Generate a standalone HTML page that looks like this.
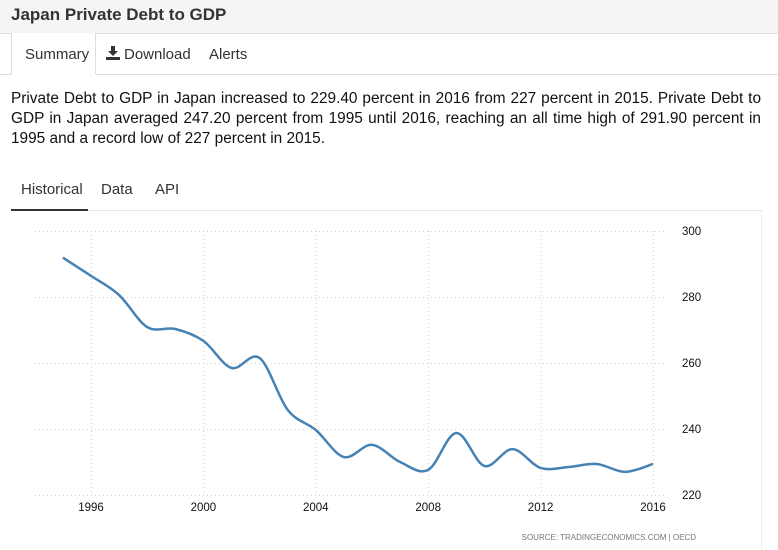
<!DOCTYPE html>
<html><head><meta charset="utf-8"><style>
body{margin:0;width:778px;height:550px;overflow:hidden;background:#fff;font-family:"Liberation Sans",Arial,sans-serif;position:relative}
.hdr{position:absolute;left:0;top:0;width:778px;height:33px;background:#f5f5f5;border-bottom:1px solid #ddd}
.hdr h1{margin:0;position:absolute;left:11px;top:5px;font-size:17px;font-weight:bold;color:#333}
.tabs{position:absolute;left:0;top:33px;width:778px;height:41px;border-bottom:1px solid #ddd}
.tab{position:absolute;top:13px;font-size:15px;color:#333}
.act{position:absolute;left:11px;top:0;width:83px;height:41px;border:1px solid #ddd;border-top:none;border-bottom:1px solid #fff;background:#fff}
p{position:absolute;left:11px;top:89px;width:750px;margin:0;font-size:15.4px;line-height:20px;color:#111}
p span{display:block;white-space:nowrap}
p span.j{text-align:justify;text-align-last:justify}
.t2{position:absolute;top:181px;font-size:15px;color:#333}
.line2{position:absolute;left:11px;top:210px;width:751px;height:1px;background:#e5e5e5}
.ul{position:absolute;left:11px;top:209px;width:77px;height:2px;background:#333}
.panel{position:absolute;left:761px;top:211px;width:1px;height:339px;background:#eee}
svg#c{position:absolute;left:0;top:0}
</style></head><body>
<div class="hdr"><h1>Japan Private Debt to GDP</h1></div>
<div class="tabs">
<div class="act"></div>
<span class="tab" style="left:25px">Summary</span>
<svg style="position:absolute;left:106px;top:13px" width="14" height="14" viewBox="0 0 14 14"><path d="M5 0h4v5h3l-5 5-5-5h3z" fill="#333"/><rect x="0" y="11" width="14" height="3" fill="#333"/></svg>
<span class="tab" style="left:124px">Download</span>
<span class="tab" style="left:209px">Alerts</span>
</div>
<p><span class="j">Private Debt to GDP in Japan increased to 229.40 percent in 2016 from 227 percent in 2015. Private Debt to</span><span class="j">GDP in Japan averaged 247.20 percent from 1995 until 2016, reaching an all time high of 291.90 percent in</span><span>1995 and a record low of 227 percent in 2015.</span></p>
<span class="t2" style="left:21px">Historical</span>
<span class="t2" style="left:101px">Data</span>
<span class="t2" style="left:155px">API</span>
<div class="line2"></div><div class="ul"></div><div class="panel"></div>
<svg id="c" width="778" height="550"></svg>
<script>
const years=[1995,1996,1997,1998,1999,2000,2001,2002,2003,2004,2005,2006,2007,2008,2009,2010,2011,2012,2013,2014,2015,2016];
const values=[291.9,286.4,280.6,270.9,270.3,266.7,258.5,261.5,245.8,239.7,231.5,235.2,230,227.6,238.8,228.8,233.9,228.2,228.5,229.4,227,229.4];
const yTicks=[220,240,260,280,300];
const xTicks=[1996,2000,2004,2008,2012,2016];
const NS='http://www.w3.org/2000/svg',svg=document.getElementById('c');
const X=y=>91+(y-1996)*(653-91)/20, Y=v=>495-(v-220)*(495-231)/80;
function el(t,a,txt){const e=document.createElementNS(NS,t);for(const k in a)e.setAttribute(k,a[k]);if(txt!=null)e.textContent=txt;svg.appendChild(e);return e;}
yTicks.forEach(v=>{
const g=el('line',{x1:35,x2:665,y1:Y(v)+0.5,y2:Y(v)+0.5,stroke:'#d0d0d0','stroke-dasharray':'1,3'});


const t=el('text',{x:682,y:Y(v)+4,'font-size':11.5,fill:'#111','font-family':'Liberation Sans,sans-serif'},v);


});
xTicks.forEach(y=>{
const g=el('line',{x1:X(y)+0.5,x2:X(y)+0.5,y1:231,y2:495,stroke:'#d0d0d0','stroke-dasharray':'1,3'});


const t=el('text',{x:X(y),y:511,'font-size':11.5,fill:'#111','text-anchor':'middle','font-family':'Liberation Sans,sans-serif'},y);


});
const P=years.map((y,i)=>[X(y),Y(values[i])]);
let d='M'+P[0][0]+','+P[0][1];
for(let i=0;i<P.length-1;i++){const p0=P[Math.max(0,i-1)],p1=P[i],p2=P[i+1],p3=P[Math.min(P.length-1,i+2)];
d+=' C'+(p1[0]+(p2[0]-p0[0])/6)+','+(p1[1]+(p2[1]-p0[1])/6)+' '+(p2[0]-(p3[0]-p1[0])/6)+','+(p2[1]-(p3[1]-p1[1])/6)+' '+p2[0]+','+p2[1];}
const ln=el('path',{d:d,fill:'none',stroke:'#4682b4','stroke-width':2.5});


const s=el('text',{x:696,y:540,'font-size':8,fill:'#777','text-anchor':'end','font-family':'Liberation Sans,sans-serif'},'SOURCE:  TRADINGECONOMICS.COM  |  OECD');


</script>
</body></html>
